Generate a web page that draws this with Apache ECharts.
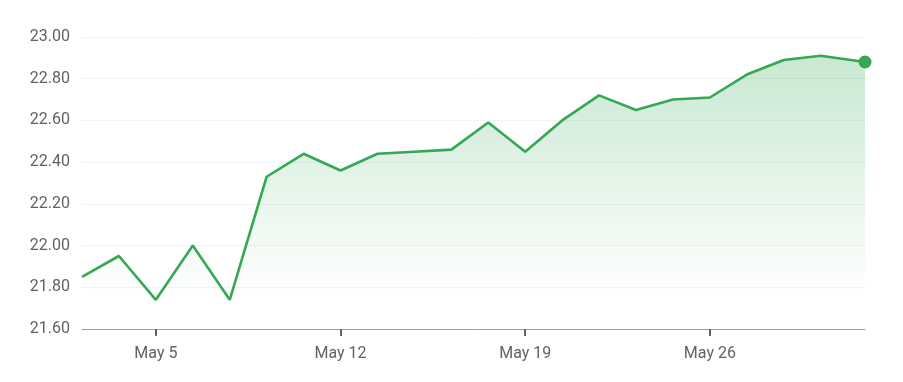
<!DOCTYPE html>
<html>
<head>
<meta charset="utf-8">
<script src="https://cdn.jsdelivr.net/npm/echarts@6/dist/echarts.min.js"></script>
<style>
html,body{margin:0;padding:0;background:#fff;}
#chart{width:903px;height:382px;}
</style>
</head>
<body>
<div id="chart"></div>
<script>
// Trading days (May), position on the compressed trading-day axis, and closing prices
const dates = ['May 1','May 2','May 5','May 6','May 7','May 8','May 9','May 12','May 13','May 14','May 15','May 16','May 19','May 20','May 21','May 22','May 23','May 26','May 27','May 28','May 29','May 30'];
const dayPos = [0,1,2,3,4,5,6,7,8,9,10,11,12,13,14,15,16,17,18,19,20,21.2];
const prices = [21.85,21.95,21.74,22.00,21.74,22.33,22.44,22.36,22.44,22.45,22.46,22.59,22.45,22.60,22.72,22.65,22.70,22.71,22.82,22.89,22.91,22.88];
const tickPos = [2,7,12,17];
const tickLabels = ['May 5','May 12','May 19','May 26'];
const yMin = 21.6, yMax = 23.0, yStep = 0.2;

const seriesData = dayPos.map((x,i)=>[x, prices[i]]);
const lastIdx = seriesData.length - 1;

const chart = echarts.init(document.getElementById('chart'), null, {renderer:'canvas'});
chart.setOption({
  animation:false,
  grid:{left:82,right:38,top:37,bottom:53,containLabel:false},
  xAxis:{
    type:'value',
    min:dayPos[0], max:dayPos[dayPos.length-1],
    splitLine:{show:false},
    axisLine:{show:true,lineStyle:{color:'#9aa0a6',width:1}},
    axisTick:{show:true,customValues:tickPos,length:7,lineStyle:{color:'#5f6368',width:2}},
    axisLabel:{
      customValues:tickPos,
      margin:17,
      color:'#5f6368',
      fontFamily:'Roboto',
      fontSize:16,
      formatter:function(v){const i=tickPos.indexOf(v);return i>=0?tickLabels[i]:'';}
    }
  },
  yAxis:{
    type:'value',
    min:yMin,max:yMax,interval:yStep,
    axisLine:{show:false},
    axisTick:{show:false},
    splitLine:{show:true,lineStyle:{color:'#f1f3f4',width:1}},
    axisLabel:{
      margin:12,
      color:'#5f6368',
      fontFamily:'Roboto',
      fontSize:16,
      formatter:function(v){return v.toFixed(2);}
    }
  },
  series:[{
    type:'line',
    data:seriesData,
    symbol:'circle',
    symbolSize:function(val,params){return params.dataIndex===lastIdx?13:0;},
    showSymbol:true,
    itemStyle:{color:'#34a853'},
    lineStyle:{color:'#34a853',width:2.6},
    areaStyle:{
      origin:'start',
      color:new echarts.graphic.LinearGradient(0,0,0,1,[
        {offset:0,color:'rgba(52,168,83,0.38)'},
        {offset:0.88,color:'rgba(52,168,83,0)'},
        {offset:1,color:'rgba(52,168,83,0)'}
      ])
    },
    z:3
  }]
});
</script>
</body>
</html>
